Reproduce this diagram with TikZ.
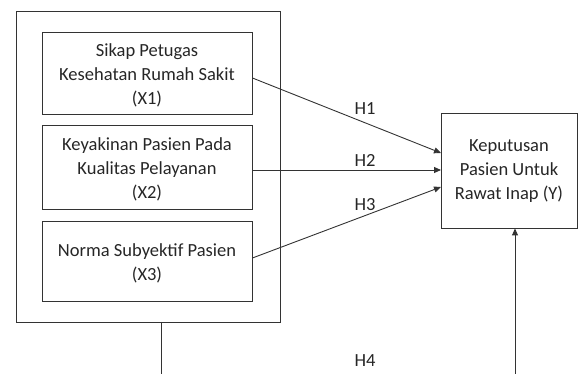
\documentclass[tikz,border=0pt]{standalone}
\usepackage{fontspec}
\setmainfont{Carlito}
\usetikzlibrary{arrows.meta}
\begin{document}
\begin{tikzpicture}[x=1pt,y=-1pt,
  box/.style={draw=black!80,line width=0.9pt},
  lbl/.style={font=\fontsize{18.5}{24}\selectfont,align=center,text=black!85},
  conn/.style={draw=black!80,line width=0.9pt},
  arr/.style={conn,-{Triangle[length=7pt,width=6pt]}},
  hlab/.style={font=\fontsize{18.5}{22}\selectfont,text=black!85}]
\useasboundingbox (0,0) rectangle (582,374);
% outer box
\draw[box] (16,11) rectangle (280,322);
\coordinate (ob) at (161,322);
\coordinate (obend) at (161,374);
% inner boxes
\node[box,minimum width=210pt,minimum height=82pt,inner sep=0pt] (x1) at (147,73) {};
\node[lbl] at ([yshift=-2pt]x1.center) {Sikap Petugas\\Kesehatan Rumah Sakit\\(X1)};
\node[box,minimum width=210pt,minimum height=84pt,inner sep=0pt] (x2) at (147,167) {};
\node[lbl] at ([yshift=-2pt]x2.center) {Keyakinan Pasien Pada\\Kualitas Pelayanan\\(X2)};
\node[box,minimum width=210pt,minimum height=80pt,inner sep=0pt] (x3) at (147,261) {};
\node[lbl] at ([yshift=-2pt]x3.center) {Norma Subyektif Pasien\\(X3)};
% Y box
\node[box,minimum width=136pt,minimum height=115pt,inner sep=0pt] (y) at (509,170.5) {};
\node[lbl] at ([yshift=-1pt]y.center) {Keputusan\\Pasien Untuk\\Rawat Inap (Y)};
% connectors
\coordinate (y1) at (441,153);
\coordinate (y2) at (441,170);
\coordinate (y3) at (441,187);
\draw[arr] (x1.east |- 0,78) -- (y1);
\draw[arr] (x2.east |- 0,170) -- (y2);
\draw[arr] (x3.east |- 0,258) -- (y3);
\draw[conn] (ob) -- (obend);
\coordinate (ybot) at (515,374);
\draw[arr] (ybot) -- (y.south -| ybot);
% labels
\node[hlab] (h1) at (365,109) {H1};
\node[hlab] (h2) at (365,160) {H2};
\node[hlab] (h3) at (365,205) {H3};
\node[hlab] (h4) at (365,361) {H4};
\end{tikzpicture}
\end{document}
